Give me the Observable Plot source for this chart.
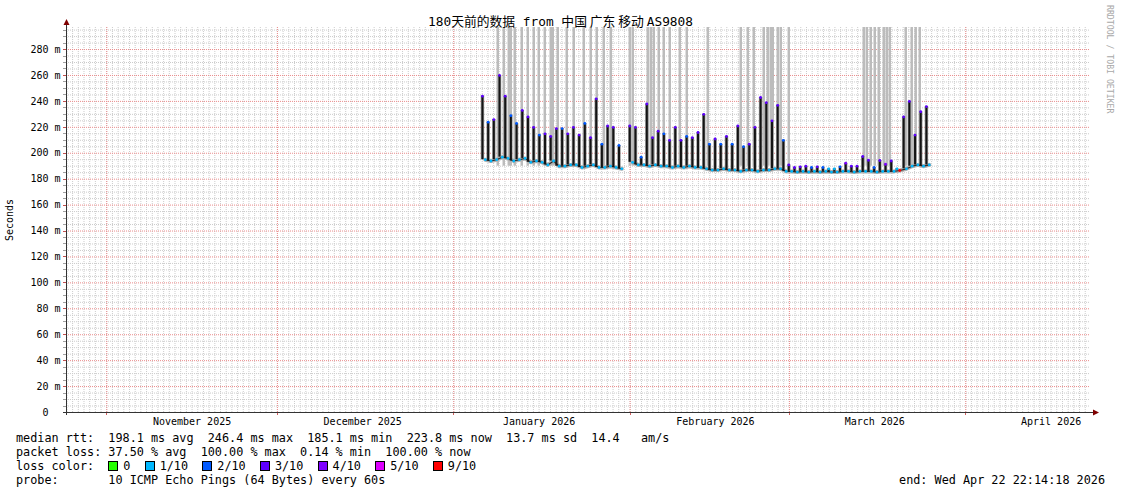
<!DOCTYPE html>
<html><head><meta charset="utf-8">
<script src="https://cdn.jsdelivr.net/npm/d3@7"></script>
<script src="https://cdn.jsdelivr.net/npm/@observablehq/plot@0.6"></script>
<style>
body{margin:0;background:#fff;width:1121px;height:494px;overflow:hidden;position:relative;font-family:"DejaVu Sans Mono",monospace;color:#000;}
#title{position:relative;height:18px;}
#title .t{position:absolute;left:0;right:0;top:13px;text-align:center;font-size:12.8px;line-height:16px;white-space:pre;font-family:"DejaVu Sans Mono","Noto Sans CJK SC",monospace;}
#title .cjk{font-family:"Noto Sans CJK SC";}
#chart svg{display:block;}
#legend{padding-top:1px;font-size:11.8px;line-height:14px;}
#legend .row{white-space:pre;padding-left:16px;height:14px;position:relative;}
#legend .box{display:inline-block;width:8px;height:8px;border:1px solid #000;margin-right:5px;vertical-align:-1px;}
#legend .end{position:absolute;right:16px;top:0;}
#rrd{position:absolute;left:1105px;top:5px;writing-mode:vertical-rl;font-size:8.2px;color:#a8a8a8;font-family:"DejaVu Sans Mono",monospace;white-space:pre;}
</style></head>
<body>
<div id="title"><div class="t"></div></div>
<div id="chart"></div>
<div id="legend"></div>
<div id="rrd">RRDTOOL / TOBI OETIKER</div>
<script>
// ---------- data ----------
const titleParts = ["180天前的数据 from 中国", "广东", "移动", "AS9808"];
const xStart = "2025-10-24T22:14:18Z";
const xEnd = "2026-04-22T22:14:18Z";
const yMax = 297;
const monthStarts = ["2025-11-01", "2025-12-01", "2026-01-01", "2026-02-01", "2026-03-01", "2026-04-01"];
const monthLabelDates = ["2025-11-16", "2025-12-16", "2026-01-16", "2026-02-16", "2026-03-16", "2026-04-16"];
const yLabelTicks = [0, 20, 40, 60, 80, 100, 120, 140, 160, 180, 200, 220, 240, 260, 280];

// daily evening peaks and following lows of the median rtt (ms)
const seg1Start = "2026-01-06T01:00Z";
const seg1Peaks = [244, 224, 226, 260, 244, 229, 223, 233, 228, 220, 214, 215, 213, 219, 219, 215, 220, 214, 223, 212, 242, 207, 221, 220, 206];
const seg1Lows  = [195, 194, 195, 197, 196, 194, 195, 196, 193, 194, 193, 191, 194, 190, 190, 191, 191, 189, 190, 191, 189, 189, 190, 189, 188];
const seg1PeakLoss = [3, 2, 3, 3, 3, 2, 2, 3, 3, 3, 2, 3, 3, 3, 2, 3, 3, 3, 2, 3, 3, 2, 3, 3, 2];

const seg2Start = "2026-01-31T22:30Z";
const seg2Peaks = [221, 220, 197, 238, 212, 217, 215, 210, 220, 210, 213, 212, 216, 230, 207, 211, 207, 213, 207, 221, 205, 207, 220, 243, 239, 225, 237, 210];
const seg2Lows  = [193, 191, 191, 190, 191, 190, 190, 189, 190, 189, 190, 189, 189, 188, 187, 187, 188, 187, 187, 186, 187, 187, 186, 187, 187, 188, 188, 186];
const seg2PeakLoss = [3, 3, 2, 3, 3, 3, 2, 3, 3, 3, 2, 3, 3, 3, 2, 3, 2, 3, 2, 3, 2, 3, 3, 3, 3, 3, 3, 2];

const seg3Start = "2026-02-28T21:30Z";
const seg3Peaks = [191, 189, 189.5, 190, 189, 189.5, 189, 188, 188, 189.5, 192.3, 190, 190, 197.5, 194.6, 189, 194.4, 191.5, 194, 188];
const seg3Lows  = [186, 185.5, 186, 185.5, 186, 185.5, 186, 185.5, 185.5, 186, 186, 185.5, 186, 186, 186, 185.5, 186, 186, 186, 186.7];
const seg3PeakLoss = [3, 3, 3, 3, 2, 3, 2, 1, 1, 2, 4, 3, 3, 3, 3, 2, 3, 4, 3, 1];
const seg3LowLoss  = [1, 1, 1, 1, 1, 1, 1, 1, 1, 1, 1, 1, 1, 1, 1, 1, 1, 1, 1, 9];

const seg4Start = "2026-03-21T02:00Z";
const seg4Peaks = [228, 240, 214, 232, 236];
const seg4Lows  = [188, 190, 191, 190, 191];
const seg4PeakLoss = [3, 3, 3, 3, 3];
const seg4LowLoss  = [1, 1, 1, 1, 1];

// days after 2026-01-01 with ping outliers far above the chart
const outlierDays = [7.73, 8.79, 9.67, 10.02, 10.72, 11.95, 13.01, 14.06, 14.94, 16.0, 17.05, 17.4, 18.28, 19.86, 21.09, 22.85, 24.08, 25.14, 26.37, 27.6,
  30.94, 31.46, 34.1, 34.63, 35.16, 36.03, 36.91, 37.97, 39.73, 40.96, 44.65, 50.45, 51.68, 52.73, 54.49, 55.19, 55.72, 56.07, 56.95, 57.48, 58.89,
  72.07, 72.6, 73.3, 74.0, 74.7, 75.58, 76.11, 76.64, 79.45, 80.5, 81.2, 81.91];
const outlierFrom = 190;

const lossLevels = [0, 1, 2, 3, 4, 5, 9];
const lossLabels = ["0", "1/10", "2/10", "3/10", "4/10", "5/10", "9/10"];
const lossColors = ["#26ff00", "#00b8ff", "#0059ff", "#5e00ff", "#7e00ff", "#dd00ff", "#ff0000"];

const statsRtt = "median rtt:  198.1 ms avg  246.4 ms max  185.1 ms min  223.8 ms now  13.7 ms sd  14.4   am/s";
const statsLoss = "packet loss: 37.50 % avg  100.00 % max  0.14 % min  100.00 % now";
const probeText = "probe:       10 ICMP Echo Pings (64 Bytes) every 60s";
const endText = "end: Wed Apr 22 22:14:18 2026";

// ---------- build ----------
const DAY = 864e5;
const jan1 = Date.parse("2026-01-01T00:00:00Z");
const lossColor = new Map(lossLevels.map((l, i) => [l, lossColors[i]]));
const spikes = [], lows = [];
function addSegment(grp, start, peaks, lowVals, peakLoss, lowLoss) {
  const t0 = Date.parse(start);
  peaks.forEach((p, k) => {
    spikes.push({grp, t: new Date(t0 + k * DAY), lo: lowVals[k], v: p, loss: peakLoss[k]});
    lows.push({grp, t: new Date(t0 + (k + 0.5) * DAY), v: lowVals[k], loss: lowLoss ? lowLoss[k] : 1});
  });
}
addSegment("a", seg1Start, seg1Peaks, seg1Lows, seg1PeakLoss, null);
addSegment("b", seg2Start, seg2Peaks, seg2Lows, seg2PeakLoss, null);
addSegment("b", seg3Start, seg3Peaks, seg3Lows, seg3PeakLoss, seg3LowLoss);
addSegment("b", seg4Start, seg4Peaks, seg4Lows, seg4PeakLoss, seg4LowLoss);
const outliers = outlierDays.map(d => ({t: new Date(jan1 + d * DAY), y1: outlierFrom, y2: yMax}));

const x0 = new Date(xStart), x1 = new Date(xEnd);
const dayLines = d3.utcDay.range(d3.utcDay.ceil(x0), x1);
const majorX = monthStarts.map(s => new Date(s + "T00:00:00Z"));
const labelX = monthLabelDates.map(s => new Date(s + "T00:00:00Z"));
const minorY = d3.range(5, yMax, 5).filter(v => v % 20 !== 0);
const majorY = d3.range(20, yMax, 20);

const chart = Plot.plot({
  width: 1121, height: 412,
  marginLeft: 66, marginRight: 31, marginTop: 9, marginBottom: 18,
  style: {fontFamily: "DejaVu Sans Mono, monospace", fontSize: "10px", background: "white", color: "black"},
  x: {type: "utc", domain: [x0, x1]},
  y: {domain: [0, yMax]},
  color: {type: "identity"},
  marks: [
    Plot.ruleX(dayLines, {stroke: "#cccccc", strokeDasharray: "1,1"}),
    Plot.ruleY(minorY, {stroke: "#cccccc", strokeDasharray: "1,1"}),
    Plot.ruleX(majorX, {stroke: "#eb8c8c", strokeDasharray: "1,1"}),
    Plot.ruleY(majorY, {stroke: "#eb8c8c", strokeDasharray: "1,1"}),
    Plot.ruleX(outliers, {x: "t", y1: "y1", y2: "y2", stroke: "#bcbcbc", strokeWidth: 2.5}),
    // smoke around the median
    Plot.line(lows, {x: "t", y: "v", z: "grp", stroke: "#b0b0b0", strokeWidth: 4}),
    Plot.ruleX(spikes, {x: "t", y1: "lo", y2: "v", stroke: "#9a9a9a", strokeWidth: 3.5}),
    // median
    Plot.line(lows, {x: "t", y: "v", z: "grp", stroke: "#2a2a2a", strokeWidth: 1.2}),
    Plot.ruleX(spikes, {x: "t", y1: "lo", y2: "v", stroke: "#141414", strokeWidth: 2}),
    Plot.dot(lows, {x: "t", y: "v", r: 1.4, fill: d => lossColor.get(d.loss), stroke: null}),
    Plot.dot(spikes, {x: "t", y: "v", r: 1.4, fill: d => lossColor.get(d.loss), stroke: null}),
    Plot.axisY(yLabelTicks, {tickSize: 0, tickPadding: 6, tickFormat: d => d ? `${d} m` : "0\u00a0\u00a0", label: "Seconds", labelAnchor: "center", labelOffset: 61, labelArrow: "none", fontSize: 10}),
    Plot.axisX(labelX, {tickSize: 0, tickPadding: 5, tickFormat: d3.utcFormat("%B %Y"), label: null, fontSize: 10})
  ]
});
document.getElementById("chart").appendChild(chart);

// axis lines, ticks and arrows drawn from the plot's own scales
const xs = chart.scale("x"), ys = chart.scale("y");
const svg = d3.select(chart);
const g = svg.append("g");
const ax = xs.apply(x0), ay = ys.apply(0), ayTop = ys.apply(yMax), axRight = xs.apply(x1);
d3.range(0, yMax, 5).forEach(v => {
  g.append("line").attr("x1", ax - 3).attr("x2", ax).attr("y1", Math.round(ys.apply(v)) + 0.5).attr("y2", Math.round(ys.apply(v)) + 0.5).attr("stroke", v % 20 ? "#a0a0a0" : "#c05050");
});
majorX.forEach(d => {
  const px = Math.round(xs.apply(d)) + 0.5;
  g.append("line").attr("x1", px).attr("x2", px).attr("y1", ay).attr("y2", ay + 3).attr("stroke", "#d06060");
});
g.append("line").attr("x1", ax + 0.5).attr("x2", ax + 0.5).attr("y1", ay + 3).attr("y2", ayTop - 4).attr("stroke", "#333").attr("stroke-width", 1);
g.append("line").attr("x1", ax - 3).attr("x2", axRight + 4).attr("y1", ay + 0.5).attr("y2", ay + 0.5).attr("stroke", "#333").attr("stroke-width", 1);
g.append("path").attr("d", `M${ax + 0.5},${ayTop - 8}L${ax + 3.5},${ayTop - 2}L${ax - 2.5},${ayTop - 2}Z`).attr("fill", "#7f0000");
g.append("path").attr("d", `M${axRight + 9},${ay + 0.5}L${axRight + 3},${ay - 2.5}L${axRight + 3},${ay + 3.5}Z`).attr("fill", "#7f0000");

// title
const tdiv = document.querySelector("#title .t");
tdiv.innerHTML = titleParts.map((p, i) => i ? `<span class="cjk"> </span>${p}` : p).join("");

// legend
const leg = document.getElementById("legend");
const row = (html) => { const r = document.createElement("div"); r.className = "row"; r.innerHTML = html; leg.appendChild(r); return r; };
row(statsRtt);
row(statsLoss);
row("loss color:  " + lossLabels.map((l, i) => `<span class="box" style="background:${lossColors[i]}"></span>${l}`).join("  "));
const pr = row(probeText);
const e = document.createElement("span"); e.className = "end"; e.textContent = endText; pr.appendChild(e);
</script>
</body></html>
